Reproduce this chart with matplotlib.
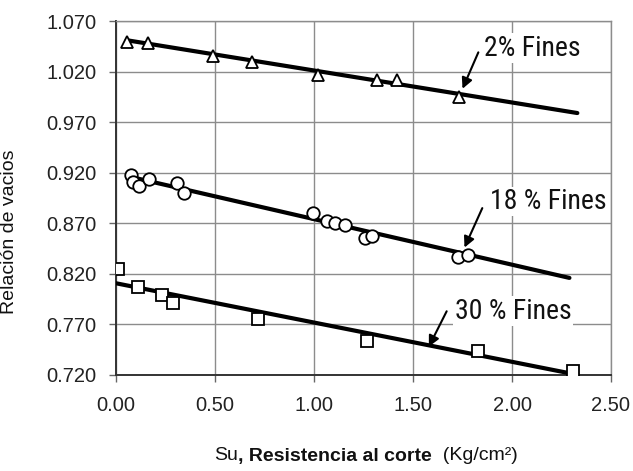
import matplotlib
matplotlib.use("Agg")
import matplotlib.pyplot as plt
from matplotlib import font_manager
from matplotlib.font_manager import FontProperties
import numpy as np

# ---- data ----
su_2 = [0.055, 0.16, 0.49, 0.685, 1.02, 1.32, 1.42, 1.73]
e_2 = [1.049, 1.048, 1.035, 1.029, 1.017, 1.012, 1.012, 0.995]

su_18 = [0.074, 0.084, 0.118, 0.168, 0.31, 0.345, 0.997, 1.067, 1.106, 1.157, 1.258, 1.295, 1.729, 1.78]
e_18 = [0.918, 0.911, 0.907, 0.914, 0.910, 0.900, 0.880, 0.872, 0.870, 0.868, 0.855, 0.857, 0.837, 0.839]

su_30 = [0.009, 0.11, 0.234, 0.286, 0.716, 1.266, 1.83, 2.31]
e_30 = [0.825, 0.807, 0.799, 0.791, 0.775, 0.7537, 0.744, 0.7243]

fit_2_x = [0.054, 2.33]
fit_2_y = [1.051, 0.979]
fit_18_x = [0.086, 2.29]
fit_18_y = [0.9153, 0.816]
fit_30_x = [0.0, 2.31]
fit_30_y = [0.8107, 0.721]

labels = ["2% Fines", "18 % Fines", "30 % Fines"]
label_xy = [(1.86, 1.043), (1.89, 0.8915), (1.71, 0.783)]
arrow_tail = [(1.83, 1.039), (1.85, 0.885), (1.67, 0.783)]
arrow_head = [(1.75, 1.003), (1.76, 0.846), (1.58, 0.748)]

x_ticks = [0.0, 0.5, 1.0, 1.5, 2.0, 2.5]
y_ticks = [0.720, 0.770, 0.820, 0.870, 0.920, 0.970, 1.020, 1.070]

# ---- fonts ----
ttf = font_manager.fontManager.ttflist
names = {f.name for f in ttf}
base_font = "Liberation Sans" if "Liberation Sans" in names else "DejaVu Sans"
plt.rcParams["font.family"] = [base_font, "DejaVu Sans"]

narrow_prop = None
prefs = ["Liberation Sans Narrow", "Arial Narrow", "Roboto Condensed", "Open Sans Condensed",
         "Noto Sans Condensed", "DejaVu Sans Condensed"]
for p in prefs:
    for f in ttf:
        if f.name == p and f.weight in (400, "normal", "regular") and f.style == "normal":
            narrow_prop = FontProperties(fname=f.fname)
            break
    if narrow_prop:
        break
if narrow_prop is None:
    for f in ttf:
        if (("Narrow" in f.name or "Condensed" in f.name or
             str(f.stretch) in ("condensed", "semi-condensed", "extra-condensed"))
                and f.style == "normal" and f.weight in (400, "normal", "regular")
                and "Mono" not in f.name and "Serif" not in f.name):
            narrow_prop = FontProperties(fname=f.fname)
            break
ann_size = 20 if narrow_prop is not None else 17
if narrow_prop is None:
    narrow_prop = FontProperties(family=base_font)

fig = plt.figure(figsize=(6.33, 4.71), dpi=100)
ax = fig.add_axes([116 / 633, 1 - 375 / 471, 495 / 633, 354 / 471])

ax.set_xlim(0, 2.5)
ax.set_ylim(0.720, 1.070)
ax.set_xticks(x_ticks)
ax.set_yticks(y_ticks)
ax.set_xticklabels([f"{v:.2f}" for v in x_ticks])
ax.set_yticklabels([f"{v:.3f}" for v in y_ticks])
ax.tick_params(axis="both", direction="out", length=5, width=1, color="#666666",
               labelsize=14.5, labelcolor="#222222")
ax.tick_params(axis="x", pad=10)
ax.tick_params(axis="y", pad=9)
ax.grid(True, color="#8c8c8c", lw=1.0)
ax.set_axisbelow(True)
for s in ["top", "right"]:
    ax.spines[s].set_color("#8c8c8c")
    ax.spines[s].set_linewidth(1.0)
for s in ["left", "bottom"]:
    ax.spines[s].set_color("#333333")
    ax.spines[s].set_linewidth(1.4)

lw_fit = 3.0
ax.plot(fit_2_x, fit_2_y, color="black", lw=lw_fit, zorder=3, solid_capstyle="round")
ax.plot(fit_18_x, fit_18_y, color="black", lw=lw_fit, zorder=3, solid_capstyle="round")
ax.plot(fit_30_x, fit_30_y, color="black", lw=lw_fit, zorder=3, solid_capstyle="round")

mk = dict(linestyle="none", markerfacecolor="white", markeredgecolor="black",
          markeredgewidth=1.3, zorder=4)
ax.plot(su_2, e_2, marker="^", markersize=9, **mk)
ax.plot(su_18, e_18, marker="o", markersize=9, **mk)
ax.plot(su_30, e_30, marker="s", markersize=8, **mk)

for lab, xy, tail, head in zip(labels, label_xy, arrow_tail, arrow_head):
    fp = narrow_prop.copy()
    fp.set_size(ann_size)
    ax.text(xy[0], xy[1], lab, fontproperties=fp,
            ha="left", va="center", color="#111111", zorder=5,
            bbox=dict(facecolor="white", edgecolor="none", pad=1))
    ax.annotate("", xy=head, xytext=tail,
                arrowprops=dict(arrowstyle="-|>", color="black", lw=1.5,
                                mutation_scale=16, shrinkA=0, shrinkB=0), zorder=5)

ax.set_ylabel("Relación de vacios", fontsize=14, color="#111111")
ax.yaxis.set_label_coords((18 - 116) / 495, (375 - 232) / 354)

# x label with mixed weights
yl = 1 - 456 / 471
fs_x = 14
t1 = fig.text(0, yl, "Su", fontsize=fs_x, va="center", ha="left", color="#111111")
t2 = fig.text(0, yl, ", Resistencia al corte", fontsize=fs_x, fontweight="bold",
              va="center", ha="left", color="#111111")
t3 = fig.text(0, yl, "  (Kg/cm²)", fontsize=fs_x, va="center", ha="left", color="#111111")
fig.canvas.draw()
r = fig.canvas.get_renderer()
w1 = t1.get_window_extent(r).width
w2 = t2.get_window_extent(r).width
w3 = t3.get_window_extent(r).width
total = w1 + w2 + w3
start = 366 - total / 2
t1.set_x(start / 633)
t2.set_x((start + w1) / 633)
t3.set_x((start + w1 + w2) / 633)

fig.savefig("out.png", dpi=100, facecolor="white")
